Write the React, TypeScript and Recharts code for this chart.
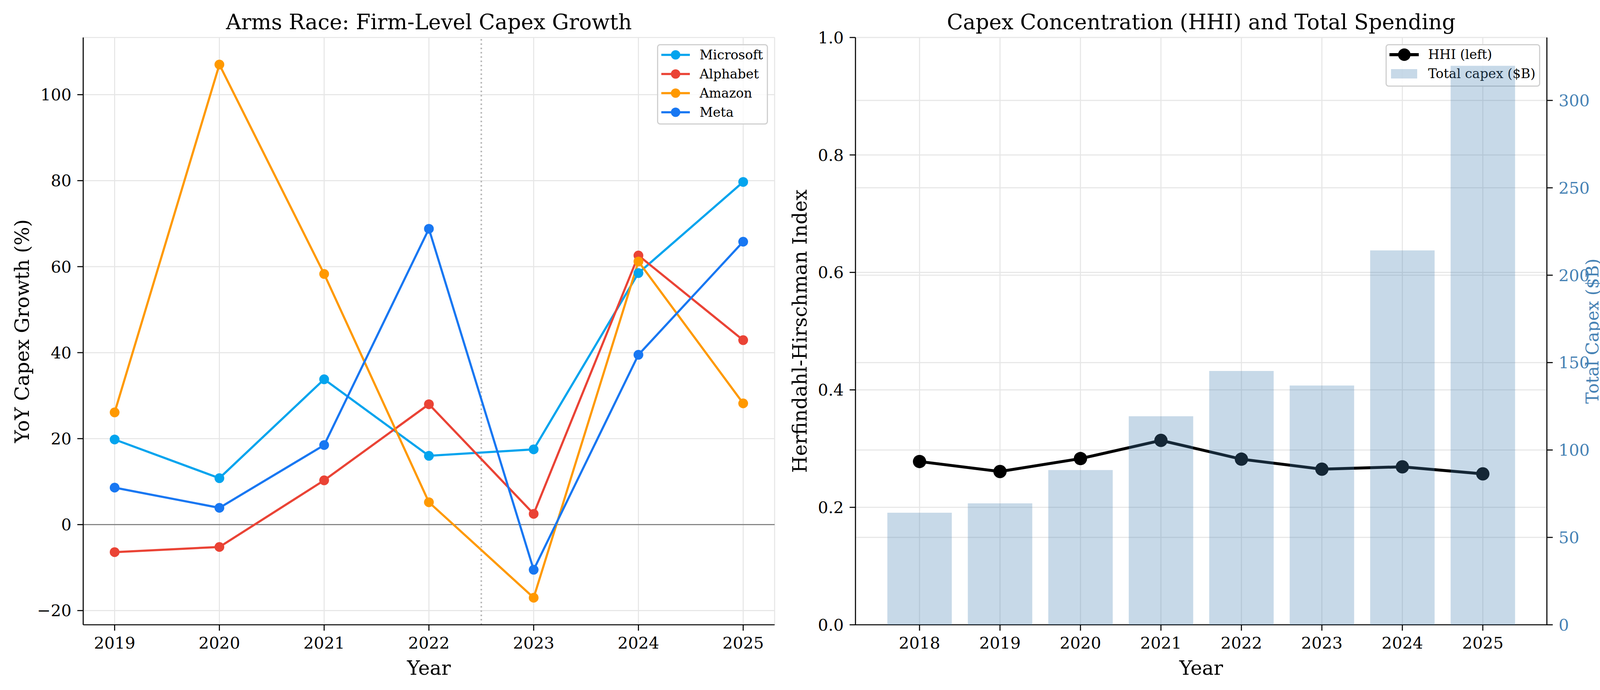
import React from 'react';
import {
  ComposedChart,
  Line,
  Bar,
  XAxis,
  YAxis,
  CartesianGrid,
  ReferenceLine,
  Legend,
} from 'recharts';

// ---------- data ----------
const growthYears = [2019, 2020, 2021, 2022, 2023, 2024, 2025];
const microsoftGrowth = [19.8, 10.8, 33.8, 16.0, 17.5, 58.5, 79.7];
const alphabetGrowth = [-6.4, -5.2, 10.3, 28.0, 2.5, 62.6, 42.9];
const amazonGrowth = [26.1, 107.0, 58.3, 5.2, -17.0, 61.2, 28.2];
const metaGrowth = [8.6, 3.9, 18.5, 68.8, -10.5, 39.5, 65.8];
const growthTicks = [-20, 0, 20, 40, 60, 80, 100];

const hhiYears = ['2018', '2019', '2020', '2021', '2022', '2023', '2024', '2025'];
const hhiValues = [0.278, 0.261, 0.283, 0.314, 0.282, 0.265, 0.269, 0.257];
const totalCapex = [64.1, 69.5, 88.5, 119.3, 145.2, 136.9, 214.2, 319.8];
const hhiTicks = [0, 0.2, 0.4, 0.6, 0.8, 1.0];
const capexTicks = [0, 50, 100, 150, 200, 250, 300];

const firms = [
  { key: 'Microsoft', color: '#03A4EE', values: microsoftGrowth },
  { key: 'Alphabet', color: '#EA4335', values: alphabetGrowth },
  { key: 'Amazon', color: '#FF9900', values: amazonGrowth },
  { key: 'Meta', color: '#1877F2', values: metaGrowth },
];
const rightLegendItems = [
  { value: 'HHI (left)', type: 'line' },
  { value: 'Total capex ($B)', type: 'rect' },
];

const growthData = growthYears.map((year, i) => {
  const row: Record<string, number> = { year };
  firms.forEach((f) => {
    row[f.key] = f.values[i];
  });
  return row;
});

const hhiData = hhiYears.map((year, i) => ({
  year,
  hhi: hhiValues[i],
  total: totalCapex[i],
}));

// ---------- styles ----------
const FONT = '"DejaVu Serif", serif';
const STEEL = '#4682B4';
const tickStyle = { fontSize: 41.7, fill: '#000', fontFamily: FONT };
const lineStyle = { stroke: '#000', strokeWidth: 2.7 };
const gridColor = '#e6e6e6';
const minus = (v: number) => String(v).replace('-', '\u2212');

const orderBy = (items: any[], names: string[]) =>
  [...items].sort((a, b) => names.indexOf(String(a.value)) - names.indexOf(String(b.value)));

const LeftLegend = (props: any) => {
  const items = orderBy(props.payload || [], firms.map((f) => f.key));
  return (
    <div
      style={{
        boxSizing: 'border-box',
        width: 284,
        height: 206,
        border: '3px solid #d0d0d0',
        borderRadius: 8,
        background: 'rgba(255,255,255,0.8)',
        paddingLeft: 8,
        fontFamily: FONT,
        fontSize: 33.3,
        color: '#000',
      }}
    >
      {items.map((it: any) => (
        <div key={it.value} style={{ display: 'flex', alignItems: 'center', height: 49 }}>
          <svg width={73} height={49} style={{ display: 'block' }}>
            <line x1={0} x2={73} y1={24.5} y2={24.5} stroke={it.color} strokeWidth={5.5} />
            <circle cx={36.5} cy={24.5} r={12} fill={it.color} />
          </svg>
          <span style={{ marginLeft: 25, lineHeight: '49px', whiteSpace: 'nowrap' }}>{it.value}</span>
        </div>
      ))}
    </div>
  );
};

const RightLegend = () => (
  <div
    style={{
      boxSizing: 'border-box',
      width: 396,
      height: 109,
      border: '3px solid #d0d0d0',
      borderRadius: 8,
      background: 'rgba(255,255,255,0.85)',
      paddingLeft: 7,
      fontFamily: FONT,
      fontSize: 33.3,
      color: '#000',
    }}
  >
    {rightLegendItems.map((it) => (
      <div key={it.value} style={{ display: 'flex', alignItems: 'center', height: 48.5 }}>
        <svg width={75} height={48} style={{ display: 'block' }}>
          {it.type === 'rect' ? (
            <rect x={4} y={12} width={67} height={24} fill={STEEL} fillOpacity={0.3} />
          ) : (
            <g>
              <line x1={0} x2={75} y1={24} y2={24} stroke="#000" strokeWidth={8} />
              <circle cx={38} cy={24} r={16} fill="#000" />
            </g>
          )}
        </svg>
        <span style={{ marginLeft: 24, lineHeight: '48px', whiteSpace: 'nowrap' }}>{it.value}</span>
      </div>
    ))}
  </div>
);

export default function App() {
  return (
    <div
      style={{
        position: 'absolute',
        left: 0,
        top: 0,
        width: 4164,
        height: 1767,
        background: '#fff',
        fontFamily: FONT,
        overflow: 'hidden',
      }}
    >
      {/* Left panel */}
      <div style={{ position: 'absolute', left: 0, top: 0 }}>
        <ComposedChart
          width={2000}
          height={1767}
          data={growthData}
          margin={{ top: 96, right: 17, bottom: 0, left: 0 }}
          style={{ fontFamily: FONT }}
        >
          <CartesianGrid stroke={gridColor} strokeWidth={2.7} />
          <XAxis
            dataKey="year"
            type="number"
            domain={[2018.7, 2025.3]}
            ticks={growthYears}
            allowDataOverflow
            interval={0}
            height={167}
            tick={tickStyle}
            tickLine={lineStyle}
            axisLine={lineStyle}
            tickSize={15}
            tickMargin={16}
          />
          <XAxis
            xAxisId="top"
            orientation="top"
            dataKey="year"
            type="number"
            domain={[2018.7, 2025.3]}
            allowDataOverflow
            height={0}
            tick={false}
            tickLine={false}
            axisLine={lineStyle}
          />
          <YAxis
            type="number"
            domain={[-23.3, 113.3]}
            ticks={growthTicks}
            allowDataOverflow
            interval={0}
            width={213}
            tick={tickStyle}
            tickFormatter={minus}
            tickLine={lineStyle}
            axisLine={lineStyle}
            tickSize={15}
            tickMargin={15}
          />
          <YAxis
            yAxisId="r"
            orientation="right"
            type="number"
            domain={[0, 1]}
            width={0}
            tick={false}
            tickLine={false}
            axisLine={lineStyle}
          />
          <ReferenceLine y={0} stroke="#808080" strokeWidth={2.7} />
          <ReferenceLine x={2022.5} stroke="#b8b8b8" strokeWidth={4} strokeDasharray="4 7" />
          {firms.map((f) => (
            <Line
              key={f.key}
              dataKey={f.key}
              name={f.key}
              stroke={f.color}
              strokeWidth={5.5}
              dot={{ r: 12.5, fill: f.color, stroke: f.color, strokeWidth: 0 }}
              activeDot={false}
              isAnimationActive={false}
            />
          ))}
          <Legend
            layout="vertical"
            align="center"
            verticalAlign="middle"
            content={LeftLegend}
            wrapperStyle={{ top: 113, left: 1682, width: 284, height: 206 }}
          />
          <text x={1098} y={75} textAnchor="middle" fontSize={54} fontFamily={FONT} fill="#000">
            Arms Race: Firm-Level Capex Growth
          </text>
          <text x={1098} y={1728} textAnchor="middle" fontSize={50} fontFamily={FONT} fill="#000">
            Year
          </text>
          <text
            x={74}
            y={848}
            textAnchor="middle"
            fontSize={50}
            fontFamily={FONT}
            fill="#000"
            transform="rotate(-90 74 848)"
          >
            YoY Capex Growth (%)
          </text>
        </ComposedChart>
      </div>

      {/* Right panel: axes, grid, HHI line */}
      <div style={{ position: 'absolute', left: 2000, top: 0 }}>
        <ComposedChart
          width={2164}
          height={1767}
          data={hhiData}
          margin={{ top: 96, right: 0, bottom: 0, left: 0 }}
          barCategoryGap="10%"
          style={{ fontFamily: FONT }}
        >
          <CartesianGrid yAxisId="left" stroke={gridColor} strokeWidth={2.7} />
          <CartesianGrid yAxisId="right" vertical={false} stroke={gridColor} strokeWidth={2.7} />
          <XAxis
            dataKey="year"
            padding={{ left: 61, right: 61 }}
            interval={0}
            height={167}
            tick={tickStyle}
            tickLine={lineStyle}
            axisLine={lineStyle}
            tickSize={15}
            tickMargin={16}
          />
          <XAxis
            xAxisId="top"
            orientation="top"
            dataKey="year"
            padding={{ left: 61, right: 61 }}
            height={0}
            tick={false}
            tickLine={false}
            axisLine={lineStyle}
          />
          <YAxis
            yAxisId="left"
            type="number"
            domain={[0, 1]}
            ticks={hhiTicks}
            allowDataOverflow
            interval={0}
            width={190}
            tick={tickStyle}
            tickFormatter={(v: number) => v.toFixed(1)}
            tickLine={lineStyle}
            axisLine={lineStyle}
            tickSize={15}
            tickMargin={15}
          />
          <YAxis
            yAxisId="right"
            orientation="right"
            type="number"
            domain={[0, 336]}
            ticks={capexTicks}
            allowDataOverflow
            interval={0}
            width={204}
            tick={{ ...tickStyle, fill: STEEL }}
            tickLine={lineStyle}
            axisLine={lineStyle}
            tickSize={15}
            tickMargin={15}
          />
          {/* transparent bar keeps the category axis in band layout */}
          <Bar
            yAxisId="right"
            dataKey="total"
            fill="none"
            fillOpacity={0}
            legendType="none"
            isAnimationActive={false}
          />
          <Line
            yAxisId="left"
            dataKey="hhi"
            name="HHI (left)"
            stroke="#000"
            strokeWidth={7.5}
            dot={{ r: 17, fill: '#000', stroke: '#000', strokeWidth: 0 }}
            activeDot={false}
            isAnimationActive={false}
          />
          <Legend
            layout="vertical"
            align="center"
            verticalAlign="middle"
            content={RightLegend}
            wrapperStyle={{ top: 113, left: 1547, width: 396, height: 109 }}
          />
          <text x={1075} y={75} textAnchor="middle" fontSize={54} fontFamily={FONT} fill="#000">
            Capex Concentration (HHI) and Total Spending
          </text>
          <text x={1075} y={1728} textAnchor="middle" fontSize={50} fontFamily={FONT} fill="#000">
            Year
          </text>
          <text
            x={65}
            y={848}
            textAnchor="middle"
            fontSize={50}
            fontFamily={FONT}
            fill="#000"
            transform="rotate(-90 65 848)"
          >
            Herfindahl-Hirschman Index
          </text>
          <text
            x={2092}
            y={848}
            textAnchor="middle"
            fontSize={44}
            fontFamily={FONT}
            fill={STEEL}
            transform="rotate(-90 2092 848)"
          >
            Total Capex ($B)
          </text>
        </ComposedChart>
      </div>

      {/* Right panel: twin-axis bars drawn on top (semi-transparent) */}
      <div style={{ position: 'absolute', left: 2000, top: 0, pointerEvents: 'none' }}>
        <ComposedChart
          width={2164}
          height={1767}
          data={hhiData}
          margin={{ top: 96, right: 0, bottom: 0, left: 0 }}
          barCategoryGap="10%"
        >
          <XAxis
            dataKey="year"
            padding={{ left: 61, right: 61 }}
            height={167}
            tick={false}
            tickLine={false}
            axisLine={false}
          />
          <YAxis yAxisId="left" type="number" domain={[0, 1]} width={190} tick={false} tickLine={false} axisLine={false} />
          <YAxis
            yAxisId="right"
            orientation="right"
            type="number"
            domain={[0, 336]}
            allowDataOverflow
            width={204}
            tick={false}
            tickLine={false}
            axisLine={false}
          />
          <Bar
            yAxisId="right"
            dataKey="total"
            name="Total capex ($B)"
            fill={STEEL}
            fillOpacity={0.3}
            isAnimationActive={false}
          />
        </ComposedChart>
      </div>
    </div>
  );
}
